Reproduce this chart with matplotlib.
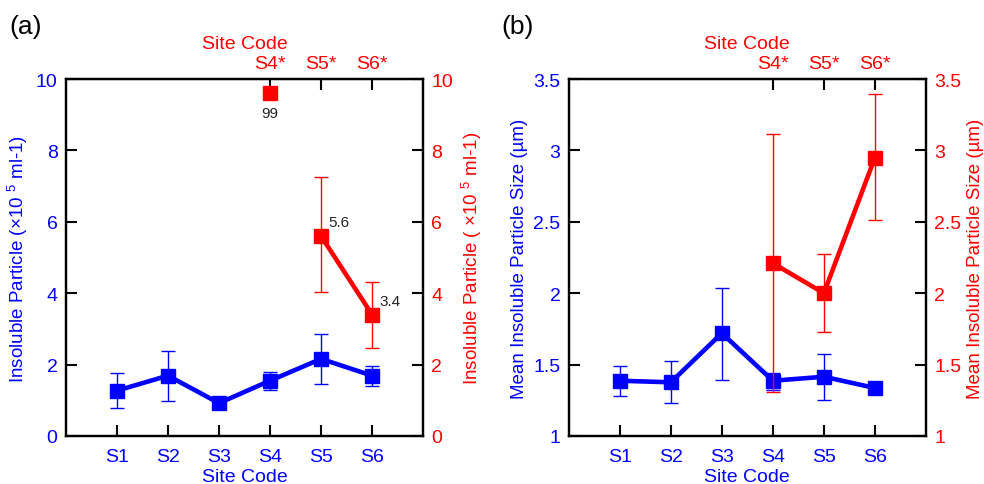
import matplotlib.pyplot as plt

plt.rcParams['font.family'] = ['Liberation Sans', 'DejaVu Sans']
plt.rcParams['mathtext.fontset'] = 'custom'
plt.rcParams['mathtext.rm'] = 'Liberation Sans'

# site codes
sites = ['S1', 'S2', 'S3', 'S4', 'S5', 'S6']
sites_star = ['S4*', 'S5*', 'S6*']

# (a) insoluble particle concentration (x10^5 ml-1)
count_blue = [1.27, 1.69, 0.92, 1.55, 2.16, 1.69]
count_blue_lo = [0.77, 0.97, 0.92, 1.30, 1.46, 1.41]
count_blue_hi = [1.76, 2.39, 0.92, 1.80, 2.85, 1.95]
count_red = [99, 5.6, 3.4]
count_red_lo = [None, 4.02, 2.46]
count_red_hi = [None, 7.26, 4.32]
count_red_labels = ['99', '5.6', '3.4']

# (b) mean insoluble particle size (um)
size_blue = [1.387, 1.376, 1.72, 1.387, 1.415, 1.336]
size_blue_lo = [1.28, 1.23, 1.395, 1.32, 1.25, 1.336]
size_blue_hi = [1.49, 1.525, 2.036, 1.44, 1.574, 1.336]
size_red = [2.21, 2.0, 2.95]
size_red_lo = [1.31, 1.73, 2.51]
size_red_hi = [3.115, 2.275, 3.395]

BLUE = '#0000ff'
RED = '#ff0000'
FS = 14

x = list(range(1, 7))
xs = [4, 5, 6]


def style(ax):
    for s in ax.spines.values():
        s.set_linewidth(1.6)
    ax.tick_params(direction='in', length=8, width=1.5, labelsize=FS, pad=6)


def errs(v, lo, hi):
    return [[a - b for a, b in zip(v, lo)], [b - a for a, b in zip(v, hi)]]


fig = plt.figure(figsize=(9.84, 4.85), dpi=100)
panels = [
    (0.067, 'Insoluble Particle (×10 $^{5}$ ml-1)', 'Insoluble Particle ( ×10 $^{5}$ ml-1)',
     (0, 10), [0, 2, 4, 6, 8, 10], ['0', '2', '4', '6', '8', '10']),
    (0.578, 'Mean Insoluble Particle Size (µm)', 'Mean Insoluble Particle Size (µm)',
     (1, 3.5), [1, 1.5, 2, 2.5, 3, 3.5], ['1', '1.5', '2', '2.5', '3', '3.5']),
]
axes = []
for left, ylab, ylab2, ylim, yt, ytl in panels:
    ax = fig.add_axes([left, 0.099, 0.363, 0.736])
    ax2 = ax.twinx()
    for a in (ax, ax2):
        a.set_xlim(0, 7)
        a.set_ylim(*ylim)
        a.set_yticks(yt, ytl)
        style(a)
    ax.set_xticks(x, sites)
    ax.tick_params(axis='x', labelcolor=BLUE, pad=9)
    ax.tick_params(axis='y', labelcolor=BLUE)
    ax2.tick_params(axis='y', labelcolor=RED)
    ax.set_xlabel('Site Code', color=BLUE, fontsize=FS, labelpad=2)
    ax.set_ylabel(ylab, color=BLUE, fontsize=FS - 0.5, labelpad=4)
    ax2.set_ylabel(ylab2, color=RED, fontsize=FS - 0.5, labelpad=4)
    top = ax.secondary_xaxis('top')
    top.set_xticks(xs, sites_star)
    top.tick_params(direction='in', length=8, width=1.5, labelsize=FS, labelcolor=RED, pad=5)
    top.set_xlabel('Site Code', color=RED, fontsize=FS, labelpad=5)
    axes.append((ax, ax2))

kw = dict(lw=3.3, marker='s', ms=9.5, elinewidth=1, capsize=4.7, capthick=1)

# panel (a)
ax, ax2 = axes[0]
ax.errorbar(x, count_blue, yerr=errs(count_blue, count_blue_lo, count_blue_hi), color=BLUE, **kw)
# S4* value is off scale, drawn at the top of the axis
ax2.plot(xs[0], 9.6, 's', color=RED, ms=9.5)
ax2.errorbar(xs[1:], count_red[1:], yerr=errs(count_red[1:], count_red_lo[1:], count_red_hi[1:]),
             color=RED, **kw)
ax2.annotate(count_red_labels[0], (xs[0], 9.6), xytext=(0, -9), textcoords='offset points',
             ha='center', va='top', fontsize=11, color='#222222')
for xi, v, lab in zip(xs[1:], count_red[1:], count_red_labels[1:]):
    ax2.annotate(lab, (xi, v), xytext=(5, 5), textcoords='offset points',
                 ha='left', va='bottom', fontsize=11, color='#222222')

# panel (b)
ax, ax2 = axes[1]
ax.errorbar(x, size_blue, yerr=errs(size_blue, size_blue_lo, size_blue_hi), color=BLUE, **kw)
ax2.errorbar(xs, size_red, yerr=errs(size_red, size_red_lo, size_red_hi), color=RED, **kw)

fig.text(0.01, 0.945, '(a)', fontsize=19, va='center')
fig.text(0.51, 0.945, '(b)', fontsize=19, va='center')

fig.savefig('out.png', dpi=100)
